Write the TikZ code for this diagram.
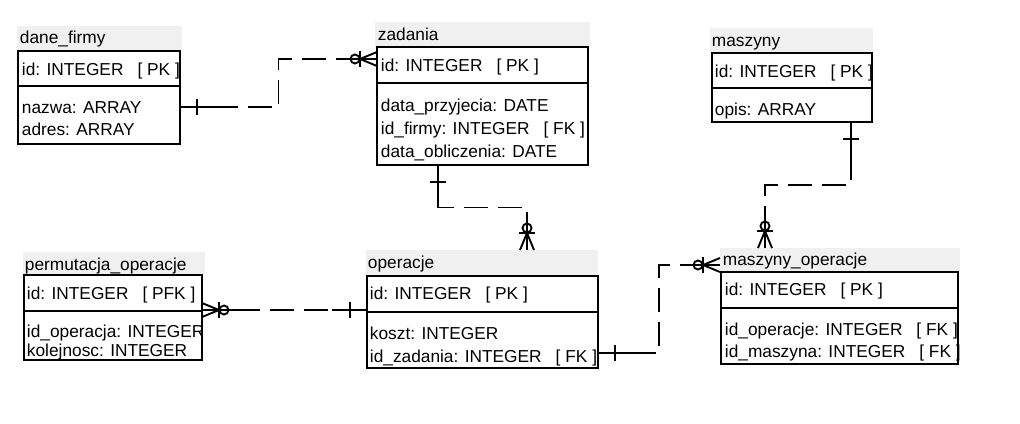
\documentclass[tikz,border=0pt]{standalone}
\usepackage{fontspec}
\setmainfont{Liberation Sans}
\usetikzlibrary{calc}
\definecolor{hdrgray}{RGB}{240,240,240}
\newcommand{\fkey}[1]{\hspace{14pt}[ #1 ]}
\begin{document}
\begin{tikzpicture}[x=1pt,y=-1pt,line width=1.9pt,
    font=\fontsize{17.3}{20}\selectfont,
    hdr/.style={fill=hdrgray,draw=none,anchor=north west,inner sep=0pt,outer sep=0pt},
    tbl/.style={draw,anchor=north west,inner sep=0pt,outer sep=0pt},
    title/.style={anchor=base west,inner sep=0pt},
    field/.style={anchor=base west,inner sep=0pt},
    rel/.style={dash pattern=on 24pt off 10pt},
    onemark/.pic={\draw (0,0) -- (35,0); \draw (17,-8) -- (17,8);},
    zmmark/.pic={\draw (0,0) -- (35,0); \draw (0,-7) -- (17,0) -- (0,7);
      \draw (17,-8) -- (17,8); \draw (22,0) circle[radius=4.5];}]

       \useasboundingbox (0,0) rectangle (1020,423);

       % headers
       \node[hdr,minimum width=165pt,minimum height=25pt] (danehd) at (17,26) {};
       \node[hdr,minimum width=215pt,minimum height=25pt] (zadhd) at (375,22) {};
       \node[hdr,minimum width=163pt,minimum height=25pt] (maszhd) at (710,28) {};
       \node[hdr,minimum width=240pt,minimum height=24pt] (mohd) at (720,248) {};
       \node[hdr,minimum width=182pt,minimum height=23pt] (permhd) at (23,252) {};
       \node[hdr,minimum width=232pt,minimum height=26pt] (ophd) at (366,250) {};

       % tables
       \node[tbl,minimum width=162pt,minimum height=93pt] (dane) at (18,51) {};
       \node[tbl,minimum width=211pt,minimum height=118pt] (zad) at (377,47) {};
       \node[tbl,minimum width=160pt,minimum height=69pt] (masz) at (712,53) {};
       \node[tbl,minimum width=237pt,minimum height=92pt] (mo) at (721,272) {};
       \node[tbl,minimum width=178pt,minimum height=85pt] (perm) at (24,275) {};
       \node[tbl,minimum width=231pt,minimum height=92pt] (op) at (367,276) {};

       \draw ($(dane.north west)+(0,35)$) -- ($(dane.north east)+(0,35)$);
       \draw ($(zad.north west)+(0,36)$) -- ($(zad.north east)+(0,36)$);
       \draw ($(masz.north west)+(0,35)$) -- ($(masz.north east)+(0,35)$);
       \draw ($(mo.north west)+(0,36)$) -- ($(mo.north east)+(0,36)$);
       \draw ($(perm.north west)+(0,36)$) -- ($(perm.north east)+(0,36)$);
       \draw ($(op.north west)+(0,36)$) -- ($(op.north east)+(0,36)$);

       % titles and fields
       \node[title] (danet) at (19,43) {dane\_firmy};
       \node[field] (daneid) at (21,75) {id: INTEGER\fkey{PK}};
       \node[field] (danenazwa) at (21,113) {nazwa: ARRAY};
       \node[field] (daneadres) at (21,135) {adres: ARRAY};

       \node[title] (zadt) at (377,40) {zadania};
       \node[field] (zadid) at (380,71) {id: INTEGER\fkey{PK}};
       \node[field] (zadprz) at (380,111) {data\_przyjecia: DATE};
       \node[field] (zadfirmy) at (380,134) {id\_firmy: INTEGER\fkey{FK}};
       \node[field] (zadobl) at (380,157) {data\_obliczenia: DATE};

       \node[title] (maszt) at (711,46) {maszyny};
       \node[field] (maszid) at (714,77) {id: INTEGER\fkey{PK}};
       \node[field] (maszopis) at (714,115) {opis: ARRAY};

       \node[title] (mot) at (722,265) {maszyny\_operacje};
       \node[field] (moid) at (724,295) {id: INTEGER\fkey{PK}};
       \node[field] (moop) at (724,335) {id\_operacje: INTEGER\fkey{FK}};
       \node[field] (momasz) at (724,357) {id\_maszyna: INTEGER\fkey{FK}};

       \node[title] (permt) at (24,270) {permutacja\_operacje};
       \node[field] (permid) at (26,299) {id: INTEGER\fkey{PFK}};
       \node[field] (permop) at (26,337) {id\_operacja: INTEGER};
       \node[field] (permkol) at (26,356) {kolejnosc: INTEGER};

       \node[title] (opt) at (367,268) {operacje};
       \node[field] (opid) at (369,299) {id: INTEGER\fkey{PK}};
       \node[field] (opkoszt) at (369,339) {koszt: INTEGER};
       \node[field] (opzad) at (369,362) {id\_zadania: INTEGER\fkey{FK}};

       % relations
       \coordinate (c1a) at ($(dane.north east)+(0,56)$);
       \coordinate (c1b) at ($(zad.north west)+(0,12)$);
       \coordinate (c2a) at ($(zad.south west)+(61,0)$);
       \coordinate (c2b) at ($(ophd.north west)+(161,0)$);
       \coordinate (c3a) at ($(masz.south east)+(-21,0)$);
       \coordinate (c3b) at ($(mohd.north west)+(45,0)$);
       \coordinate (c4a) at ($(perm.north east)+(0,35)$);
       \coordinate (c4b) at ($(op.north west)+(0,34)$);
       \coordinate (c5a) at ($(op.south east)+(0,-15)$);
       \coordinate (c5b) at ($(mohd.north west)+(0,17)$);

       \draw[rel] (c1a) -| ($(c1a)!.5!(c1b)$) |- (c1b);
       \draw[rel] (c2a) |- ($(c2a)!.5!(c2b)$) -| (c2b);
       \draw[rel] (c3a) |- ($(c3a)!.5!(c3b)$) -| (c3b);
       \draw[rel] (c4a) -- (c4b);
       \draw[rel] (c5a) -| ($(c5a)!.5!(c5b)$) |- (c5b);

       \pic[rotate=0] at (c1a) {onemark};
       \pic[rotate=180] at (c1b) {zmmark};
       \pic[rotate=-90] at (c2a) {onemark};
       \pic[rotate=90] at (c2b) {zmmark};
       \pic[rotate=-90] at (c3a) {onemark};
       \pic[rotate=90] at (c3b) {zmmark};
       \pic[rotate=0] at (c4a) {zmmark};
       \pic[rotate=180] at (c4b) {onemark};
       \pic[rotate=0] at (c5a) {onemark};
       \pic[rotate=180] at (c5b) {zmmark};
     \end{tikzpicture}
\end{document}
